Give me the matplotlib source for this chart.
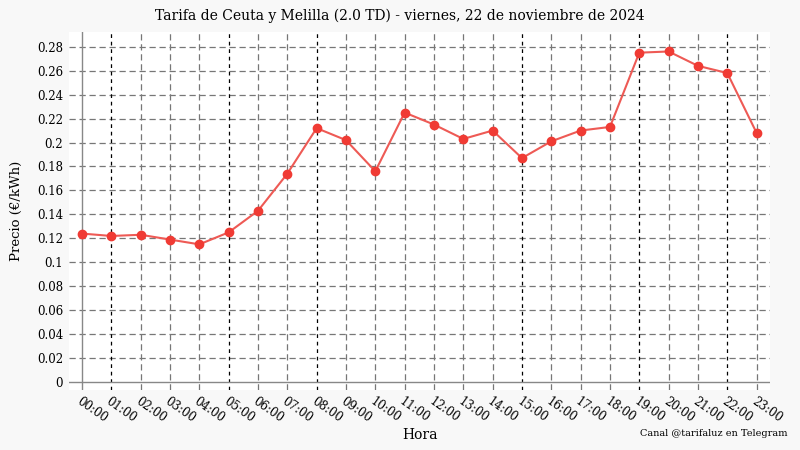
import matplotlib.pyplot as plt
import matplotlib.transforms as mtransforms
import numpy as np

horas = ["%02d:00" % h for h in range(24)]
precios = [0.124, 0.122, 0.123, 0.119, 0.115, 0.125, 0.143, 0.174,
           0.212, 0.202, 0.176, 0.225, 0.215, 0.203, 0.210, 0.187,
           0.201, 0.210, 0.213, 0.275, 0.276, 0.264, 0.258, 0.208]
horas_marcadas = [1, 5, 8, 15, 19, 22]
yticks = [0, 0.02, 0.04, 0.06, 0.08, 0.1, 0.12, 0.14, 0.16, 0.18,
          0.2, 0.22, 0.24, 0.26, 0.28]

plt.rcParams['font.family'] = 'DejaVu Serif'

fig = plt.figure(figsize=(8, 4.5), dpi=100, facecolor='#f8f8f8')
ax = fig.add_axes([0.086, 0.133, 0.877, 0.796])
ax.set_facecolor('white')
for s in ax.spines.values():
    s.set_visible(False)

x = np.arange(len(horas))
ax.plot(x, precios, color='#ee5a55', lw=1.5, zorder=3)
ax.plot(x, precios, 'o', color='#f03b34', ms=6, zorder=4)

ax.set_xlim(-0.45, 23.47)
ax.set_ylim(-0.0067, 0.2923)
ax.set_xticks(x)
ax.set_xticklabels(horas, rotation=-35, ha='left', rotation_mode='anchor', fontsize=8.5)
# desplazar un poco las etiquetas a la derecha
offset = mtransforms.ScaledTranslation(5 / 72, 0, fig.dpi_scale_trans)
for lbl in ax.get_xticklabels():
    lbl.set_transform(lbl.get_transform() + offset)
ax.set_yticks(yticks)
ax.set_yticklabels(["%g" % v for v in yticks], fontsize=8.5)
ax.tick_params(axis='y', length=0, pad=4)
ax.tick_params(axis='x', length=0, pad=3)

for v in yticks[1:]:
    ax.axhline(v, color='#777777', ls=(0, (5, 3)), lw=0.9, zorder=1)
for h in x[1:]:
    if h in horas_marcadas:
        ax.axvline(h, color='black', ls=(0, (3, 3)), lw=0.9, zorder=1)
    else:
        ax.axvline(h, color='#777777', ls=(0, (5, 3)), lw=0.9, zorder=1)
# ejes en cero
ax.axhline(0, color='#888888', lw=1, zorder=2)
ax.axvline(0, color='#888888', lw=1, zorder=2)

ax.set_xlabel('Hora', fontsize=10)
ax.xaxis.set_label_coords(0.5, -0.105)
ax.set_ylabel('Precio (€/kWh)', fontsize=9.5)
ax.yaxis.set_label_coords(-0.065, 0.5)
fig.text(0.5, 0.965, 'Tarifa de Ceuta y Melilla (2.0 TD) - viernes, 22 de noviembre de 2024',
         ha='center', va='center', fontsize=10)
fig.text(0.984, 0.037, 'Canal @tarifaluz en Telegram', ha='right', va='center', fontsize=7)

fig.savefig('out.png', dpi=100, facecolor=fig.get_facecolor())
